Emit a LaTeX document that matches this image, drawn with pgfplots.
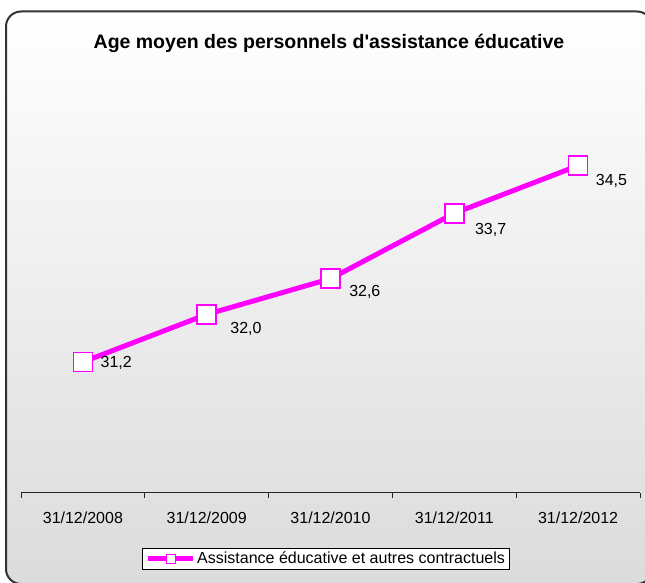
\documentclass[border=0pt]{standalone}
\usepackage{pgfplots}
\pgfplotsset{compat=1.18}
\usepackage{pgfplotstable}
\usepackage{fontspec}
\setmainfont{Liberation Sans}
\definecolor{mag}{RGB}{255,0,255}

\pgfplotstableread{
x y lbl dx dy
0 31.2 31,2 17 0
1 32.0 32,0 23 13
2 32.6 32,6 18 12
3 33.7 33,7 20 15
4 34.5 34,5 17 14
}\agedata

\begin{document}
\begin{tikzpicture}[x=1pt,y=1pt]
\useasboundingbox (0,0) rectangle (645,582);
\shade[top color=white, bottom color=black!14, rounded corners=15pt] (6,-2) rectangle (652,570.5);
\draw[line width=2pt, black!80, rounded corners=15pt] (6,-2) rectangle (652,570.5);
\node[anchor=base, font=\fontsize{19.5}{23}\selectfont\bfseries] at (329,533) {Age moyen des personnels d\textquotesingle assistance éducative};
\begin{axis}[
  at={(21pt,89.1pt)}, anchor=south west,
  scale only axis, width=619pt, height=416.5pt,
  xmin=-0.5, xmax=4.5, ymin=29, ymax=36,
  axis y line=none, axis x line*=bottom,
  axis line style={black!85, line width=1pt},
  xtick={0,...,4},
  xticklabels={31/12/2008,31/12/2009,31/12/2010,31/12/2011,31/12/2012},
  major tick length=0pt,
  minor xtick={-0.5,0.5,...,4.5},
  minor tick length=5pt,
  tick align=outside,
  tick style={black!85, line width=1pt},
  xticklabel style={font=\fontsize{16}{19}\selectfont, anchor=base, yshift=-30.3pt},
  clip=false,
  legend style={at={(0.196,-0.1316)}, anchor=north west, draw=black, fill=white, line width=0.8pt, inner xsep=2.5pt, inner ysep=2pt, font=\fontsize{16}{19}\selectfont},
  legend cell align=left,
  legend image code/.code={
    \draw[mag, line width=5pt] (0pt,0pt) -- (45pt,0pt);
    \draw[mag, fill=white, line width=1.2pt] (18.5pt,-4.5pt) rectangle (27.5pt,4.5pt);
  },
]
\addplot[mag, line width=5pt, mark=square*, mark size=9.5pt,
  mark options={fill=white, draw=mag, line width=1.5pt},
  nodes near coords, point meta=explicit symbolic,
  visualization depends on={\thisrow{dx} \as \dx},
  visualization depends on={\thisrow{dy} \as \dy},
  every node near coord/.append style={anchor=base west, inner sep=0pt, font=\fontsize{16}{19}\selectfont, text=black, xshift=\dx pt, yshift=-\dy pt - 5.8pt}]
  table[x=x, y=y, meta=lbl]{\agedata};
\addlegendentry{Assistance éducative et autres contractuels}
\end{axis}
\end{tikzpicture}
\end{document}
